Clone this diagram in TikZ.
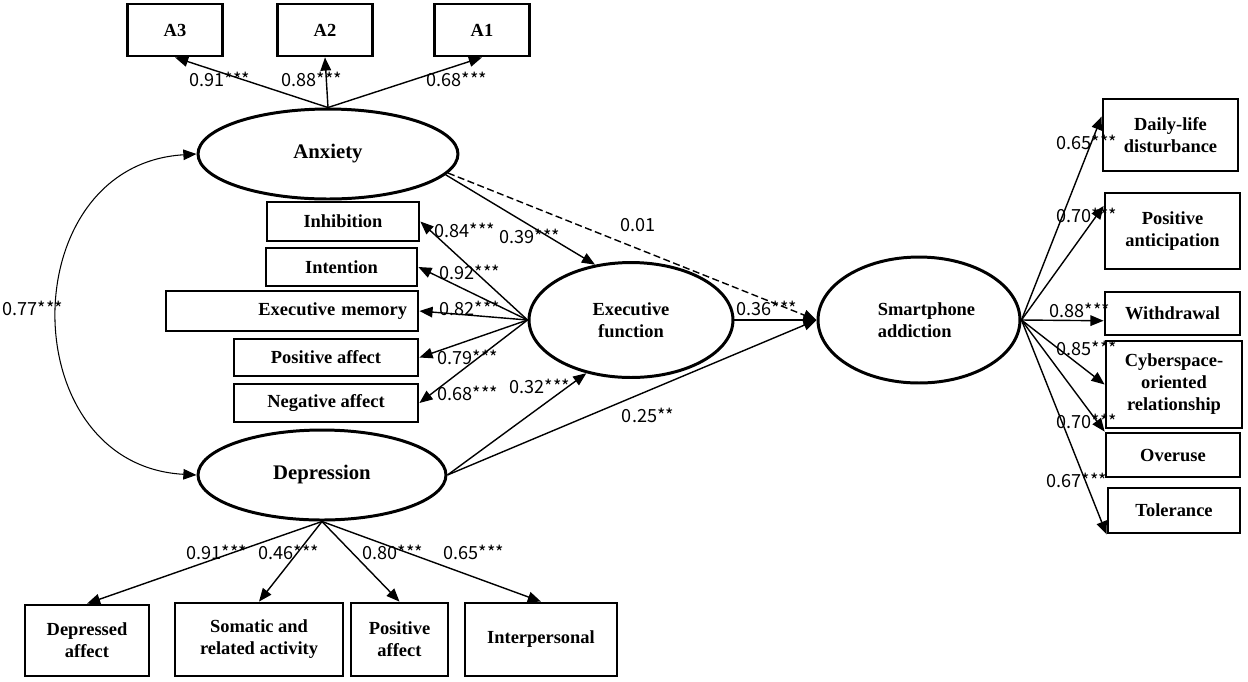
\documentclass[tikz,border=0pt]{standalone}
\usepackage{fontspec}
\setmainfont{Liberation Serif}
\newfontfamily\numfont{Noto Sans CJK KR}
\usetikzlibrary{shapes.geometric,arrows.meta,positioning}

\tikzset{
  latent/.style={ellipse, draw, line width=1.7pt, align=center, inner sep=0pt,
    font=\fontsize{10.5}{12.5}\selectfont\bfseries},
  bigtext/.style={font=\fontsize{11.8}{13}\selectfont\bfseries},
  obs/.style={rectangle, draw, line width=1.6pt, align=center, inner sep=0pt,
    font=\fontsize{10.5}{12.5}\selectfont\bfseries},
  load/.style={-{Triangle[length=7.5pt,width=6pt]}, line width=0.8pt},
  coef/.style={inner sep=0pt, font=\fontsize{10.3}{12}\selectfont\numfont}
}

\begin{document}
\begin{tikzpicture}[x=0.02cm, y=-0.02cm]
    \useasboundingbox (0,0) rectangle (1248,681);

    % Latent variables
    \node[latent, bigtext, minimum width=5.2cm, minimum height=1.8cm] (anx) at (328,154) {Anxiety};
    \node[latent, bigtext, minimum width=4.96cm, minimum height=1.8cm] (dep) at (322,475) {Depression};
    \node[latent, minimum width=4.08cm, minimum height=2.3cm] (ef) at (631,320) {Executive\\function};
    \node[latent, minimum width=4.04cm, minimum height=2.52cm, align=left] (sa) at (919,320)
        {\hspace*{0.3cm}Smartphone\\\hspace*{0.3cm}addiction};

    % Anxiety items
    \node[obs, minimum width=1.9cm, minimum height=1.04cm] (a3) at (175,30) {A3};
    \node[obs, minimum width=1.9cm, minimum height=1.04cm] (a2) at (325,30) {A2};
    \node[obs, minimum width=1.9cm, minimum height=1.04cm] (a1) at (482,30) {A1};

    % Executive function items
    \node[obs, minimum width=3.04cm, minimum height=0.78cm] (inh) at (343,221.5) {Inhibition};
    \node[obs, minimum width=3.02cm, minimum height=0.76cm] (int) at (341.5,267) {Intention};
    \node[obs, minimum width=5.04cm, minimum height=0.8cm, text width=4.6cm, align=right] (mem) at (292,311) {Executive memory};
    \node[obs, minimum width=3.68cm, minimum height=0.74cm] (pos) at (326,357.5) {Positive affect};
    \node[obs, minimum width=3.68cm, minimum height=0.76cm] (neg) at (326,403) {Negative affect};

    % Depression items
    \node[obs, minimum width=2.48cm, minimum height=1.42cm] (d1) at (87,640.5) {Depressed\\affect};
    \node[obs, minimum width=3.36cm, minimum height=1.46cm] (d2) at (259,639.5) {Somatic and\\related activity};
    \node[obs, minimum width=1.94cm, minimum height=1.46cm] (d3) at (399.5,639.5) {Positive\\affect};
    \node[obs, minimum width=3.04cm, minimum height=1.46cm] (d4) at (541,639.5) {Interpersonal};

    % Smartphone addiction items
    \node[obs, minimum width=2.7cm, minimum height=1.44cm] (s1) at (1170.5,135) {Daily-life\\disturbance};
    \node[obs, minimum width=2.7cm, minimum height=1.52cm] (s2) at (1172.5,231) {Positive\\anticipation};
    \node[obs, minimum width=2.7cm, minimum height=0.86cm] (s3) at (1172.5,313.5) {Withdrawal};
    \node[obs, minimum width=2.72cm, minimum height=1.74cm] (s4) at (1174,384.5) {Cyberspace-\\oriented\\relationship};
    \node[obs, minimum width=2.68cm, minimum height=0.88cm] (s5) at (1173,455) {Overuse};
    \node[obs, minimum width=2.64cm, minimum height=0.9cm] (s6) at (1174,510.5) {Tolerance};

    % Loadings
    \draw[load] (anx.north) -- (a3.south);
    \draw[load] (anx.north) -- (a2.south);
    \draw[load] (anx.north) -- (a1.south);
    \draw[load] (ef.west) -- (inh.east);
    \draw[load] (ef.west) -- (int.east);
    \draw[load] (ef.west) -- (mem.east);
    \draw[load] (ef.west) -- (pos.east);
    \draw[load] (ef.west) -- (neg.east);
    \draw[load] (dep.south) -- (d1.north);
    \draw[load] (dep.south) -- (d2.north);
    \draw[load] (dep.south) -- (d3.north);
    \draw[load] (dep.south) -- (d4.north);
    \draw[load] (sa.east) -- (s1.165);
    \draw[load] (sa.east) -- (s2.160);
    \draw[load] (sa.east) -- (s3.186);
    \draw[load] (sa.east) -- (s4.west);
    \draw[load] (sa.east) -- (s5.north west);
    \draw[load] (sa.east) -- (s6.south west);

    % Structural paths
    \draw[load] (anx.-10) -- (ef.123);
    \draw[load, dash pattern=on 4pt off 2pt] (anx.-9) -- (sa.west);
    \draw[load] (ef.east) -- (sa.west);
    \draw[load] (dep.east) -- (ef.230);
    \draw[load] (dep.east) -- (sa.west);

    % Covariance
    \draw[{Triangle[length=7.5pt,width=6pt]}-{Triangle[length=7.5pt,width=6pt]}, line width=0.6pt]
        (anx.west) .. controls (12,165) and (12,465) .. (dep.west);

    % Coefficients
    \node[coef] (c-a3) at (220,79) {0.91***};
    \node[coef] (c-a2) at (312,79) {0.88***};
    \node[coef] (c-a1) at (457,79) {0.68***};
    \node[coef] (c-inh) at (465,230) {0.84***};
    \node[coef] (c-int) at (470,272) {0.92***};
    \node[coef] (c-mem) at (470,308) {0.82***};
    \node[coef] (c-pos) at (468,357) {0.79***};
    \node[coef] (c-neg) at (468,393) {0.68***};
    \node[coef] (c-anxef) at (530,236) {0.39***};
    \node[coef] (c-anxsa) at (638,225) {0.01};
    \node[coef] (c-efsa) at (767,308) {0.36***};
    \node[coef] (c-depef) at (540,386) {0.32***};
    \node[coef] (c-depsa) at (648,415) {0.25**};
    \node[coef] (c-cov) at (33,308) {0.77***};
    \node[coef] (c-d1) at (217,552) {0.91***};
    \node[coef] (c-d2) at (289,552) {0.46***};
    \node[coef] (c-d3) at (393,552) {0.80***};
    \node[coef] (c-d4) at (474,552) {0.65***};
    \node[coef] (c-s1) at (1087,142) {0.65***};
    \node[coef] (c-s2) at (1087,215) {0.70***};
    \node[coef] (c-s3) at (1080,310) {0.88***};
    \node[coef] (c-s4) at (1087,348) {0.85***};
    \node[coef] (c-s5) at (1087,421) {0.70***};
    \node[coef] (c-s6) at (1077,480) {0.67***};
\end{tikzpicture}
\end{document}
